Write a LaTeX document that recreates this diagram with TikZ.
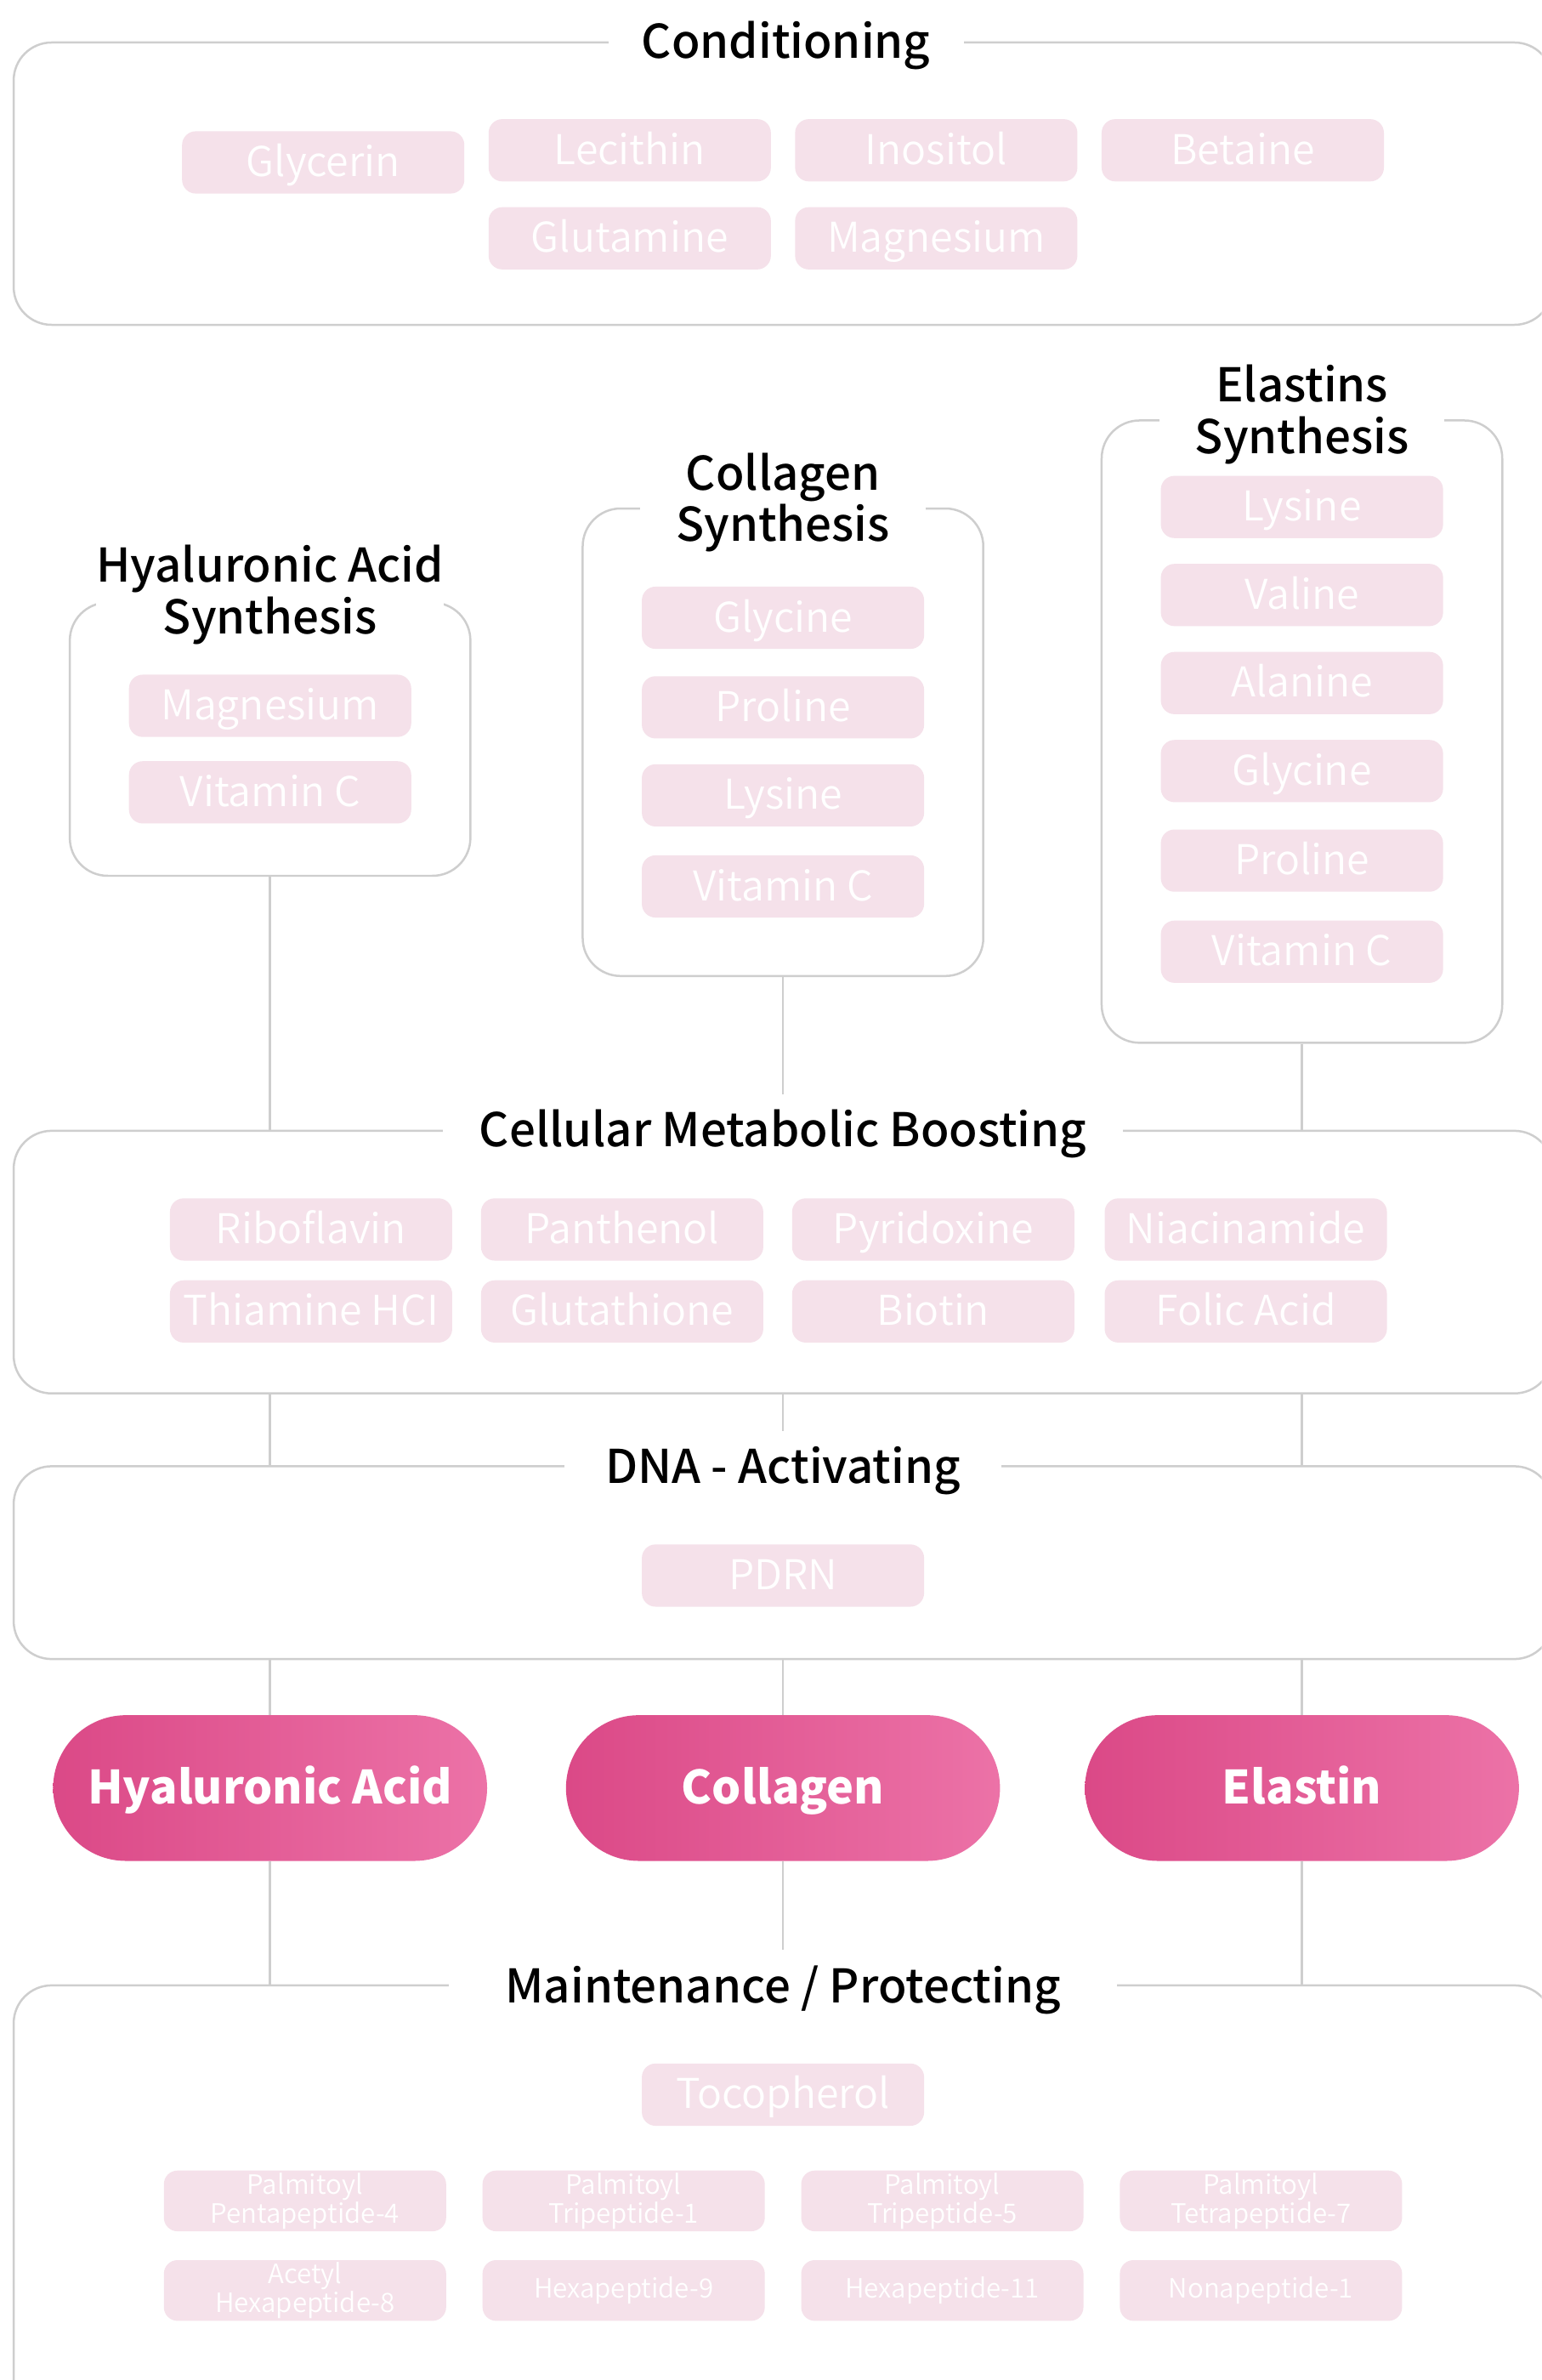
\documentclass[tikz,border=0pt]{standalone}
\usepackage{fontspec}
\setmainfont{Noto Sans CJK SC}
\IfFontExistsTF{Noto Sans CJK SC DemiLight}
  {\newfontfamily\chipfont{Noto Sans CJK SC DemiLight}}
  {\IfFontExistsTF{Noto Sans CJK SC Light}
    {\newfontfamily\chipfont{Noto Sans CJK SC Light}}
    {\newfontfamily\chipfont{Noto Sans CJK SC}}}
\IfFontExistsTF{Noto Sans CJK SC Medium}
  {\newfontfamily\ttlfont{Noto Sans CJK SC Medium}}
  {\newfontfamily\ttlfont{Noto Sans CJK SC}}
\usetikzlibrary{calc}
\definecolor{pillpink}{RGB}{245,225,234}
\definecolor{linegray}{RGB}{206,206,206}
\definecolor{pinkA}{RGB}{219,73,135}
\definecolor{pinkB}{RGB}{236,114,167}
\tikzset{
  box/.style={draw=linegray, line width=1.4pt, rounded corners=25pt, inner sep=0pt},
  chip/.style={fill=pillpink, rounded corners=9pt, minimum width=186pt, minimum height=41pt,
    inner sep=0pt, text=white, font=\chipfont\fontsize{27}{30}\selectfont, text height=18.5pt, text depth=0pt},
  smallchip/.style={fill=pillpink, rounded corners=9pt, minimum width=186pt, minimum height=40pt,
    inner sep=0pt, text=white, font=\chipfont\fontsize{17.5}{17}\selectfont, align=center},
  ttl/.style={fill=white, inner xsep=0pt, inner ysep=13.5pt, font=\ttlfont\fontsize{30.6}{34}\selectfont,
    text height=21pt, text depth=0pt},
  ttltwo/.style={fill=white, inner sep=0pt, font=\ttlfont\fontsize{30.6}{34}\selectfont, align=center},
  big/.style={rounded corners=48pt, minimum width=286pt, minimum height=96pt, inner sep=0pt,
    left color=pinkA, right color=pinkB, text=white,
    font=\bfseries\fontsize{30.2}{34}\selectfont, text height=21pt, text depth=0pt},
  link/.style={draw=linegray, line width=1.4pt},
}
\begin{document}
\begin{tikzpicture}[x=1pt,y=-1pt]
\useasboundingbox (0,0) rectangle (1016,1568);
\clip (0,0) rectangle (1016,1568);
\fill[white] (0,0) rectangle (1016,1568);

% Conditioning
\node[box, minimum width=1014pt, minimum height=186pt] (cond) at (516,121) {};
\node[ttl, minimum width=234pt] (condt) at (518,28) {Conditioning};
\node[chip] (c1) at (213,107) {Glycerin};
\node[chip] (c2) at (415,99) {Lecithin};
\node[chip] (c3) at (617,99) {Inositol};
\node[chip] (c4) at (819,99) {Betaine};
\node[chip] (c5) at (415,157) {Glutamine};
\node[chip] (c6) at (617,157) {Magnesium};

% Hyaluronic acid synthesis
\node[box, minimum width=264pt, minimum height=180pt] (hasyn) at (178,487) {};
\node[ttltwo, minimum width=217pt] (hasynt) at (178,392) {Hyaluronic Acid\\Synthesis};
\node[chip] (h1) at (178,465) {Magnesium};
\node[chip] (h2) at (178,522) {Vitamin C};

% Collagen synthesis
\node[box, minimum width=264pt, minimum height=308pt] (colsyn) at (516,489) {};
\node[ttltwo, minimum width=188pt] (colsynt) at (516,331) {Collagen\\Synthesis};
\node[chip] (k1) at (516,407) {Glycine};
\node[chip] (k2) at (516,466) {Proline};
\node[chip] (k3) at (516,524) {Lysine};
\node[chip] (k4) at (516,584) {Vitamin C};

% Elastins synthesis
\node[box, minimum width=264pt, minimum height=410pt] (elsyn) at (858,482) {};
\node[ttltwo, minimum width=188pt] (elsynt) at (858,273) {Elastins\\Synthesis};
\node[chip] (e1) at (858,334) {Lysine};
\node[chip] (e2) at (858,392) {Valine};
\node[chip] (e3) at (858,450) {Alanine};
\node[chip] (e4) at (858,508) {Glycine};
\node[chip] (e5) at (858,567) {Proline};
\node[chip] (e6) at (858,627) {Vitamin C};

% Cellular metabolic boosting
\node[box, minimum width=1014pt, minimum height=173pt] (cell) at (516,831.5) {};
\node[ttl, minimum width=448pt] (cellt) at (516,745) {Cellular Metabolic Boosting};
\node[chip] (m1) at (205,810) {Riboflavin};
\node[chip] (m2) at (410,810) {Panthenol};
\node[chip] (m3) at (615,810) {Pyridoxine};
\node[chip] (m4) at (821,810) {Niacinamide};
\node[chip] (m5) at (205,864) {Thiamine HCI};
\node[chip] (m6) at (410,864) {Glutathione};
\node[chip] (m7) at (615,864) {Biotin};
\node[chip] (m8) at (821,864) {Folic Acid};

% DNA activating
\node[box, minimum width=1014pt, minimum height=127pt] (dna) at (516,1029.5) {};
\node[ttl, minimum width=288pt] (dnat) at (516,967) {DNA - Activating};
\node[chip] (d1) at (516,1038) {PDRN};

% Big pills
\node[big] (ha) at (178,1178) {Hyaluronic Acid};
\node[big] (co) at (516,1178) {Collagen};
\node[big] (el) at (858,1178) {Elastin};

% Maintenance / Protecting
\node[box, minimum width=1014pt, minimum height=292pt] (mnt) at (516,1454) {};
\node[ttl, minimum width=440pt] (mntt) at (516,1309) {Maintenance / Protecting};
\node[chip] (p0) at (516,1380) {Tocopherol};
\node[smallchip] (p1) at (201,1450) {Palmitoyl\\Pentapeptide-4};
\node[smallchip] (p2) at (411,1450) {Palmitoyl\\Tripeptide-1};
\node[smallchip] (p3) at (621,1450) {Palmitoyl\\Tripeptide-5};
\node[smallchip] (p4) at (831,1450) {Palmitoyl\\Tetrapeptide-7};
\node[smallchip] (p5) at (201,1509) {Acetyl\\Hexapeptide-8};
\node[smallchip] (p6) at (411,1509) {Hexapeptide-9};
\node[smallchip] (p7) at (621,1509) {Hexapeptide-11};
\node[smallchip] (p8) at (831,1509) {Nonapeptide-1};

% Connectors
\draw[link] (hasyn.south) -- (hasyn.south |- cell.north);
\draw[link] (colsyn.south) -- (cellt.north);
\draw[link] (elsyn.south) -- (elsyn.south |- cell.north);

\draw[link] (cell.south -| ha.center) -- (dna.north -| ha.center);
\draw[link] (cell.south -| co.center) -- (dnat.north);
\draw[link] (cell.south -| el.center) -- (dna.north -| el.center);

\draw[link] (dna.south -| ha.north) -- (ha.north);
\draw[link] (dna.south -| co.north) -- (co.north);
\draw[link] (dna.south -| el.north) -- (el.north);

\draw[link] (ha.south) -- (ha.south |- mnt.north);
\draw[link] (co.south) -- (mntt.north);
\draw[link] (el.south) -- (el.south |- mnt.north);
\end{tikzpicture}
\end{document}
